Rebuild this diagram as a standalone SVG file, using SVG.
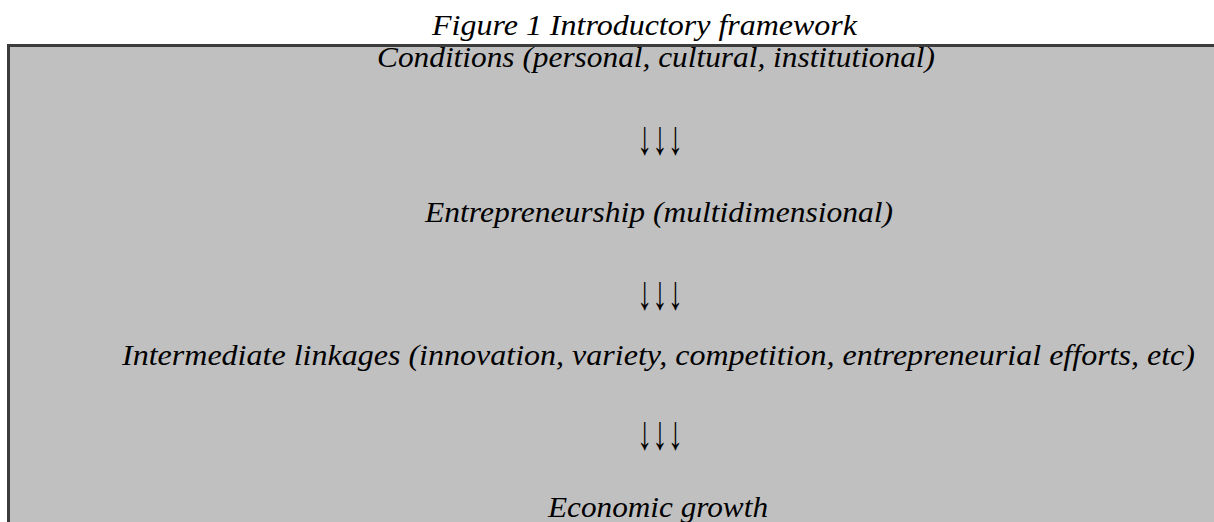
<svg xmlns="http://www.w3.org/2000/svg" width="1214" height="522" viewBox="0 0 1214 522">
<style>
text{font-family:"Liberation Serif","Times New Roman",serif;font-style:italic;font-size:29px;fill:#000;text-anchor:middle}
.arr{font-style:normal;font-size:48px}
</style>
<rect x="0" y="0" width="1214" height="522" fill="#ffffff"/>
<text x="644.5" y="35" textLength="425" lengthAdjust="spacingAndGlyphs">Figure 1 Introductory framework</text>
<g id="frame">
<rect x="8.5" y="45.5" width="1220" height="500" fill="#c0c0c0" stroke="#3c3c3c" stroke-width="3"/>
</g>
<g id="n1"><text x="656" y="67" textLength="558" lengthAdjust="spacingAndGlyphs">Conditions (personal, cultural, institutional)</text></g>
<g id="n2"><text x="659" y="222" textLength="468" lengthAdjust="spacingAndGlyphs">Entrepreneurship (multidimensional)</text></g>
<g id="n3"><text x="658.5" y="365" textLength="1073" lengthAdjust="spacingAndGlyphs">Intermediate linkages (innovation, variety, competition, entrepreneurial efforts, etc)</text></g>
<g id="n4"><text x="658" y="517" textLength="220" lengthAdjust="spacingAndGlyphs">Economic growth</text></g>
<g id="connectors">
<text class="arr" x="660" y="154" textLength="46" lengthAdjust="spacingAndGlyphs">↓↓↓</text>
<text class="arr" x="660" y="309" textLength="46" lengthAdjust="spacingAndGlyphs">↓↓↓</text>
<text class="arr" x="660" y="449" textLength="46" lengthAdjust="spacingAndGlyphs">↓↓↓</text>
</g>
</svg>
